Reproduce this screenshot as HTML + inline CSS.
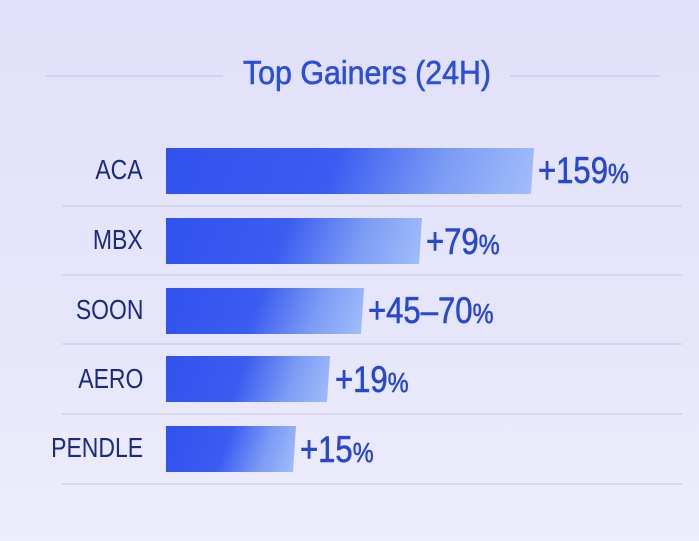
<!DOCTYPE html>
<html><head><meta charset="utf-8"><style>
body{margin:0;width:699px;height:541px;overflow:hidden;background:linear-gradient(180deg,#e0e0fa 0%,#e6e6fb 60%,#ededfb 100%);font-family:"Liberation Sans",sans-serif;position:relative}
.t{position:absolute;top:54px;left:367px;font-size:33px;color:#2c4fd9;transform:translateX(-50%) scaleX(0.92);white-space:nowrap;-webkit-text-stroke:0.6px #2c4fd9}
.hl{position:absolute;height:2px;background:#d3d3f0;top:75px}
.sep{position:absolute;left:62px;width:620px;height:2px;background:#d6d6f0}
.lab{position:absolute;right:556px;font-size:28px;color:#1b2a82;transform:scaleX(0.82);transform-origin:right center;white-space:nowrap}
.bar{position:absolute;left:166px;height:46px;background:linear-gradient(110deg,#3152ee 0%,#3a5cf0 45%,#7d9df5 75%,#a3bdfb 100%);clip-path:polygon(0 0,100% 0,calc(100% - 3px) 100%,0 100%)}
.v{position:absolute;font-size:37px;color:#2a48cf;transform:scaleX(0.84);transform-origin:left center;white-space:nowrap;-webkit-text-stroke:0.6px #2a48cf}
.v span{font-size:28px}
</style></head><body>
<div class="hl" style="left:45px;width:178px"></div>
<div class="hl" style="left:510px;width:150px"></div>
<div class="t">Top Gainers (24H)</div>

<div class="bar" style="top:148px;width:368px"></div>
<div class="lab" style="top:154px">ACA</div>
<div class="v" style="left:538px;top:150px">+159<span>%</span></div>
<div class="sep" style="top:205px"></div>

<div class="bar" style="top:218px;width:256px"></div>
<div class="lab" style="top:224px">MBX</div>
<div class="v" style="left:426px;top:221px">+79<span>%</span></div>
<div class="sep" style="top:274px"></div>

<div class="bar" style="top:288px;width:198px"></div>
<div class="lab" style="top:294px">SOON</div>
<div class="v" style="left:368px;top:290px">+45–70<span>%</span></div>
<div class="sep" style="top:343px"></div>

<div class="bar" style="top:356px;width:164px"></div>
<div class="lab" style="top:363px">AERO</div>
<div class="v" style="left:335px;top:359px">+19<span>%</span></div>
<div class="sep" style="top:413px"></div>

<div class="bar" style="top:426px;width:130px"></div>
<div class="lab" style="top:432px">PENDLE</div>
<div class="v" style="left:300px;top:429px">+15<span>%</span></div>
<div class="sep" style="top:483px"></div>
</body></html>
